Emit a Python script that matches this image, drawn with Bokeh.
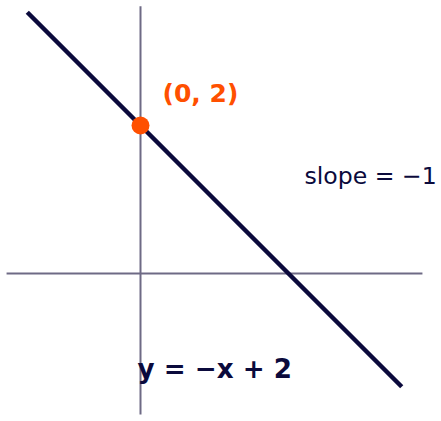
from bokeh.plotting import figure
from bokeh.models import Range1d
from bokeh.embed import file_html
from bokeh.resources import INLINE
from bokeh.core.properties import value

# data
line_x = [-1.53, 3.53]
line_y = [2 - v for v in line_x]
point_x = [0]
point_y = [2]
axis_x_extent = [-1.81, 3.81]
axis_y_extent = [-1.905, 3.61]
labels = ["(0, 2)", "slope = \u22121", "y = \u2212x + 2"]

W, H = 440, 420
px = 74.0
x0 = -140 / px
x1 = x0 + W / px
y1 = 273 / px
y0 = y1 - H / px

p = figure(width=W, height=H, output_backend="svg", toolbar_location=None,
           x_range=Range1d(x0, x1), y_range=Range1d(y0, y1),
           min_border=0, min_border_left=0, min_border_right=0,
           min_border_top=0, min_border_bottom=0)
p.axis.visible = False
p.grid.visible = False
p.outline_line_color = None
p.background_fill_color = "white"
p.border_fill_color = "white"

axis_col = "#6e6a85"
p.line(axis_x_extent, [0, 0], line_color=axis_col, line_width=2)
p.line([0, 0], axis_y_extent, line_color=axis_col, line_width=2)

navy = "#0b0a3c"
p.line(line_x, line_y, line_color=navy, line_width=4.5)
p.scatter(point_x, point_y, size=18, fill_color="#ff5000", line_color=None)

font = value("DejaVu Sans")
p.text([0.297], [2.432], text=[labels[0]], text_color="#ff5000",
       text_font=font, text_font_style="bold", text_font_size="25px",
       text_align="left", text_baseline="middle")
p.text([2.216], [1.311], text=[labels[1]], text_color=navy,
       text_font=font, text_font_size="23.6px",
       text_align="left", text_baseline="middle")
p.text([-0.04], [-1.284], text=[labels[2]], text_color=navy,
       text_font=font, text_font_style="bold", text_font_size="26.2px",
       text_align="left", text_baseline="middle")

open("out.html", "w").write(file_html(p, INLINE))
